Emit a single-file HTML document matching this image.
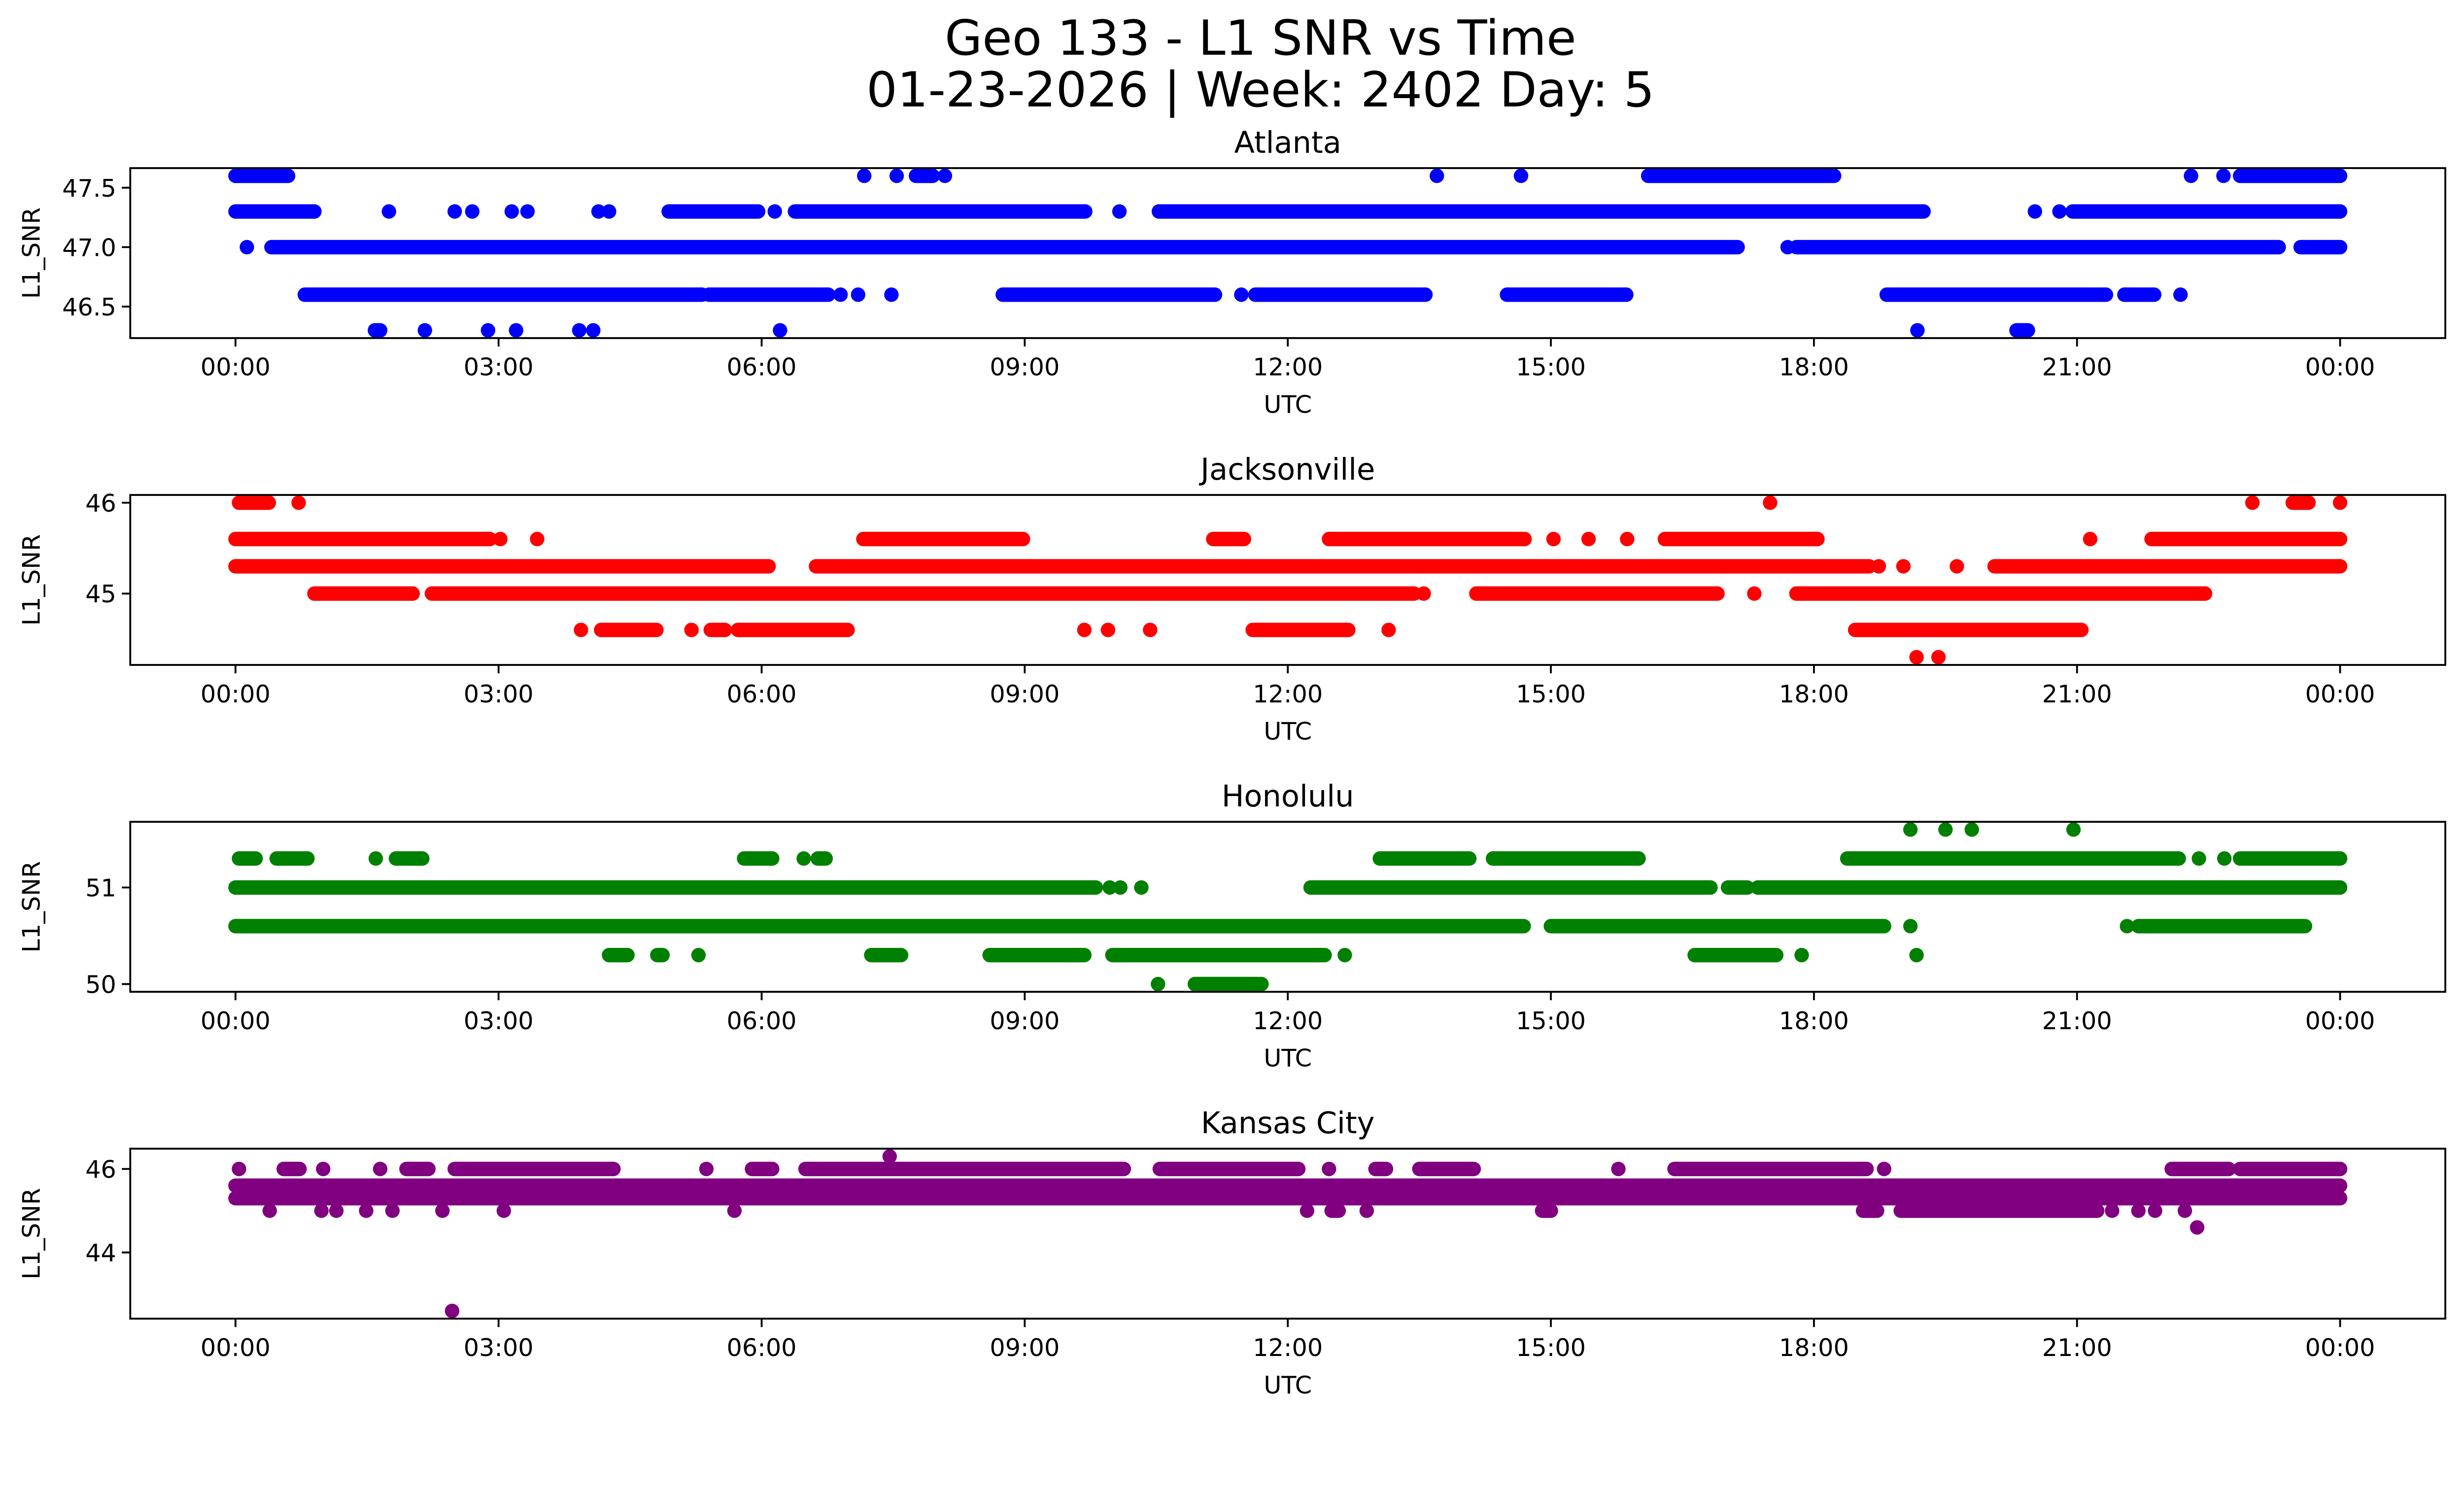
<!DOCTYPE html>
<html><head><meta charset="utf-8"><style>
html,body{margin:0;padding:0;background:#fff;overflow:hidden;}
svg{display:block;width:100vw;height:calc(100vw * 3033 / 5278);font-family:"DejaVu Sans","Liberation Sans",sans-serif;}
</style></head><body>
<svg id="chart" viewBox="0 0 5278 3033" xmlns="http://www.w3.org/2000/svg">
<rect x="0" y="0" width="5278" height="3033" fill="#fff"/>
<text x="2700" y="117" font-size="104" text-anchor="middle">Geo 133 - L1 SNR vs Time</text>
<text x="2700" y="228" font-size="104" text-anchor="middle">01-23-2026 | Week: 2402 Day: 5</text>
</svg>
<script>
// Data: runs of observations [startHour, endHour, SNR]
const stations = ["Atlanta", "Jacksonville", "Honolulu", "Kansas City"];
const colors = ["#0000ff", "#ff0000", "#008000", "#800080"];
const xTickLabels = ["00:00","03:00","06:00","09:00","12:00","15:00","18:00","21:00","00:00"];
const xTickHours = [0,3,6,9,12,15,18,21,24];
const yTicksAtlanta = [46.5, 47.0, 47.5];
const yTickLabelsAtlanta = ["46.5","47.0","47.5"];
const yTicksJacksonville = [45, 46];
const yTicksHonolulu = [50, 51];
const yTicksKansas = [44, 46];
const runsAtlanta = [
 [0,0.6,47.6],[7.17,7.17,47.6],[7.54,7.54,47.6],[7.76,7.95,47.6],[8.09,8.09,47.6],[13.7,13.7,47.6],[14.66,14.66,47.6],[16.11,18.23,47.6],[22.3,22.3,47.6],[22.67,22.67,47.6],[22.86,24,47.6],
 [0,0.9,47.3],[1.75,1.75,47.3],[2.5,2.5,47.3],[2.7,2.7,47.3],[3.15,3.15,47.3],[3.33,3.33,47.3],[4.14,4.14,47.3],[4.26,4.26,47.3],[4.94,5.96,47.3],[6.15,6.15,47.3],[6.38,9.69,47.3],[10.08,10.08,47.3],[10.53,19.25,47.3],[20.52,20.52,47.3],[20.8,20.8,47.3],[20.95,24,47.3],
 [0.13,0.13,47.0],[0.41,17.13,47.0],[17.7,17.7,47.0],[17.8,23.3,47.0],[23.55,24,47.0],
 [0.79,5.32,46.6],[5.4,6.76,46.6],[6.9,6.9,46.6],[7.1,7.1,46.6],[7.48,7.48,46.6],[8.75,11.17,46.6],[11.47,11.47,46.6],[11.63,13.57,46.6],[14.5,15.86,46.6],[18.83,21.33,46.6],[21.54,21.88,46.6],[22.18,22.18,46.6],
 [1.59,1.65,46.3],[2.16,2.16,46.3],[2.88,2.88,46.3],[3.2,3.2,46.3],[3.92,3.92,46.3],[4.08,4.08,46.3],[6.21,6.21,46.3],[19.18,19.18,46.3],[20.31,20.44,46.3]
];
const runsJacksonville = [
 [0.04,0.38,46.0],[0.72,0.72,46.0],[17.5,17.5,46.0],[23.0,23.0,46.0],[23.46,23.64,46.0],[24,24,46.0],
 [0,2.9,45.6],[3.02,3.02,45.6],[3.44,3.44,45.6],[7.16,8.98,45.6],[11.15,11.5,45.6],[12.47,14.7,45.6],[15.03,15.03,45.6],[15.43,15.43,45.6],[15.87,15.87,45.6],[16.3,18.04,45.6],[21.15,21.15,45.6],[21.85,24,45.6],
 [0,6.08,45.3],[6.62,18.63,45.3],[18.74,18.74,45.3],[19.02,19.02,45.3],[19.63,19.63,45.3],[20.06,24,45.3],
 [0.9,2.02,45.0],[2.24,13.44,45.0],[13.55,13.55,45.0],[14.15,16.9,45.0],[17.32,17.32,45.0],[17.8,22.46,45.0],
 [3.94,3.94,44.6],[4.17,4.8,44.6],[5.2,5.2,44.6],[5.42,5.58,44.6],[5.73,6.98,44.6],[9.68,9.68,44.6],[9.95,9.95,44.6],[10.43,10.43,44.6],[11.6,12.69,44.6],[13.15,13.15,44.6],[18.47,21.05,44.6],
 [19.17,19.17,44.3],[19.42,19.42,44.3]
];
const runsHonolulu = [
 [19.1,19.1,51.6],[19.5,19.5,51.6],[19.8,19.8,51.6],[20.96,20.96,51.6],
 [0.04,0.23,51.3],[0.47,0.82,51.3],[1.6,1.6,51.3],[1.83,2.13,51.3],[5.8,6.12,51.3],[6.48,6.48,51.3],[6.64,6.73,51.3],[13.05,14.07,51.3],[14.34,16.0,51.3],[18.38,22.16,51.3],[22.39,22.39,51.3],[22.68,22.68,51.3],[22.86,24,51.3],
 [0,9.81,51.0],[9.97,9.97,51.0],[10.09,10.09,51.0],[10.33,10.33,51.0],[12.26,16.82,51.0],[17.02,17.24,51.0],[17.36,24,51.0],
 [0,14.69,50.6],[15.0,18.8,50.6],[19.1,19.1,50.6],[21.57,21.57,50.6],[21.7,23.6,50.6],
 [4.26,4.47,50.3],[4.81,4.87,50.3],[5.28,5.28,50.3],[7.25,7.59,50.3],[8.6,9.68,50.3],[10.0,12.42,50.3],[12.65,12.65,50.3],[16.64,17.57,50.3],[17.86,17.86,50.3],[19.17,19.17,50.3],
 [10.52,10.52,50.0],[10.94,11.7,50.0]
];
const runsKansas = [
 [7.46,7.46,46.3],
 [0.04,0.04,46.0],[0.55,0.73,46.0],[1.0,1.0,46.0],[1.65,1.65,46.0],[1.95,2.2,46.0],[2.5,4.31,46.0],[5.37,5.37,46.0],[5.89,6.12,46.0],[6.5,10.13,46.0],[10.54,12.12,46.0],[12.47,12.47,46.0],[13.0,13.12,46.0],[13.5,14.12,46.0],[15.77,15.77,46.0],[16.41,18.6,46.0],[18.8,18.8,46.0],[22.08,22.73,46.0],[22.86,24,46.0],
 [0,24,45.6],[0,24,45.3],
 [0.39,0.39,45.0],[0.98,0.98,45.0],[1.15,1.15,45.0],[1.49,1.49,45.0],[1.79,1.79,45.0],[2.36,2.36,45.0],[3.06,3.06,45.0],[5.69,5.69,45.0],[12.22,12.22,45.0],[12.5,12.58,45.0],[12.9,12.9,45.0],[14.9,15.0,45.0],[18.56,18.72,45.0],[18.99,21.23,45.0],[21.4,21.4,45.0],[21.7,21.7,45.0],[21.89,21.89,45.0],[22.23,22.23,45.0],
 [22.37,22.37,44.6],
 [2.47,2.47,42.6]
];
const allRuns = [runsAtlanta, runsJacksonville, runsHonolulu, runsKansas];
const allYTicks = [yTicksAtlanta, yTicksJacksonville, yTicksHonolulu, yTicksKansas];
const allYLabels = [yTickLabelsAtlanta, ["45","46"], ["50","51"], ["44","46"]];

const svg = document.getElementById('chart');
const NS = 'http://www.w3.org/2000/svg';
function mk(tag, attrs, parent){const e=document.createElementNS(NS,tag);for(const k in attrs)e.setAttribute(k,attrs[k]);(parent||svg).appendChild(e);return e;}

const L=279, R=5238, H=364, TOP0=360, STEP=700;
const xmin=-1.2, xmax=25.2;
function xs(h){return L+(h-xmin)/(xmax-xmin)*(R-L);}

for(let p=0;p<4;p++){
  const top=TOP0+p*STEP, bot=top+H;
  const runs=allRuns[p];
  let lo=Infinity, hi=-Infinity;
  runs.forEach(r=>{lo=Math.min(lo,r[2]);hi=Math.max(hi,r[2]);});
  const m=(hi-lo)*0.05, ymin=lo-m, ymax=hi+m;
  const ys=v=>bot-(v-ymin)/(ymax-ymin)*H;
  const g=mk('g',{});
  
  
  const clipId='clip'+p;
  const cp=mk('clipPath',{id:clipId},g);
  mk('rect',{x:L,y:top,width:R-L,height:H},cp);
  const marks=mk('g',{'clip-path':'url(#'+clipId+')'},g);
  runs.forEach(r=>{
    const ln=mk('line',{x1:xs(r[0]),x2:xs(r[1]),y1:ys(r[2]),y2:ys(r[2]),stroke:colors[p],'stroke-width':31,'stroke-linecap':'round'},marks);
    
    
  });
  const fr=mk('rect',{x:L,y:top,width:R-L,height:H,fill:'none',stroke:'#000','stroke-width':4},g);
  
  
  xTickHours.forEach((h,i)=>{
    const x=xs(h);
    mk('line',{x1:x,x2:x,y1:bot,y2:bot+18,stroke:'#000','stroke-width':4},g);
    const t=mk('text',{x:x,y:bot+80,'font-size':52,'text-anchor':'middle'},g);
    t.textContent=xTickLabels[i];
    
    
  });
  allYTicks[p].forEach((v,i)=>{
    const y=ys(v);
    mk('line',{x1:L-18,x2:L,y1:y,y2:y,stroke:'#000','stroke-width':4},g);
    const t=mk('text',{x:L-30,y:y+19,'font-size':52,'text-anchor':'end'},g);
    t.textContent=allYLabels[p][i];
    
    
  });
  const xl=mk('text',{x:(L+R)/2,y:bot+160,'font-size':52,'text-anchor':'middle'},g);
  xl.textContent='UTC';
  
  
  const yl=mk('text',{x:0,y:0,'font-size':52,'text-anchor':'middle',transform:'translate(85,'+(top+H/2)+') rotate(-90)'},g);
  yl.textContent='L1_SNR';
  
  
  const st=mk('text',{x:(L+R)/2,y:top-33,'font-size':64,'text-anchor':'middle'},g);
  st.textContent=stations[p];
  
  
}
</script>
</body></html>
